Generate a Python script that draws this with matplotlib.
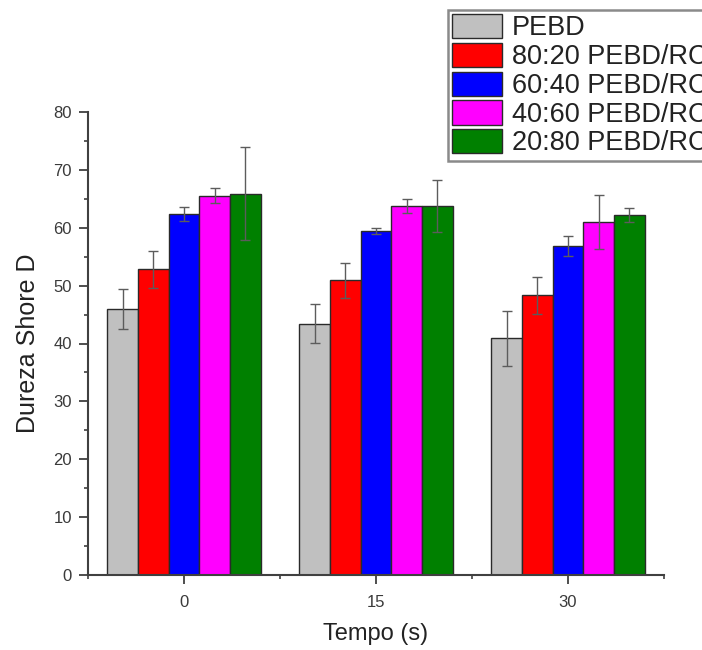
import numpy as np
import matplotlib
matplotlib.use("Agg")
import matplotlib.pyplot as plt
from matplotlib.ticker import MultipleLocator, FixedLocator

plt.rcParams['font.family'] = ['Liberation Sans', 'DejaVu Sans']

# Data: Shore D hardness versus treatment time
times = ["0", "15", "30"]
series = ["PEBD", "80:20 PEBD/RC", "60:40 PEBD/RC", "40:60 PEBD/RC", "20:80 PEBD/RC"]
colors = ["#C0C0C0", "#FF0000", "#0000FF", "#FF00FF", "#008000"]

pebd = [46.0, 43.4, 40.9]
r80_20 = [52.8, 50.9, 48.3]
r60_40 = [62.4, 59.4, 56.9]
r40_60 = [65.5, 63.7, 61.0]
r20_80 = [65.9, 63.7, 62.2]

pebd_err = [3.5, 3.35, 4.8]
r80_20_err = [3.2, 3.0, 3.2]
r60_40_err = [1.2, 0.5, 1.7]
r40_60_err = [1.3, 1.2, 4.6]
r20_80_err = [8.1, 4.5, 1.2]

values = [pebd, r80_20, r60_40, r40_60, r20_80]
errors = [pebd_err, r80_20_err, r60_40_err, r40_60_err, r20_80_err]

fig = plt.figure(figsize=(7.02, 6.5), dpi=100)
ax = fig.add_axes([88 / 702, 1 - 575 / 650, (664 - 88) / 702, (575 - 112) / 650])

x = np.arange(len(times))
width = 0.16
n = len(series)
for i, (name, vals, errs, col) in enumerate(zip(series, values, errors, colors)):
    offs = (i - (n - 1) / 2) * width
    ax.bar(x + offs, vals, width, color=col, edgecolor="#2a2a2a", linewidth=1.0,
           label=name, zorder=2)
    ax.errorbar(x + offs, vals, yerr=errs, fmt="none", ecolor="#5c5c5c",
                elinewidth=1.0, capsize=3.5, capthick=1.0, zorder=3)

ax.set_xlim(-0.5, 2.5)
ax.set_ylim(0, 80)
ax.set_xticks(x)
ax.set_xticklabels(times)
ax.xaxis.set_minor_locator(FixedLocator([-0.5, 0.5, 1.5, 2.5]))
ax.yaxis.set_major_locator(MultipleLocator(10))
ax.yaxis.set_minor_locator(MultipleLocator(5))

for side in ("top", "right"):
    ax.spines[side].set_visible(False)
for side in ("left", "bottom"):
    ax.spines[side].set_color("#404040")
    ax.spines[side].set_linewidth(1.5)

ax.tick_params(axis="both", which="major", direction="out", length=6.5, width=1.3,
               color="#404040", labelsize=12, labelcolor="#3a3a3a", pad=5)
ax.tick_params(axis="both", which="minor", direction="out", length=3, width=1.2,
               color="#404040")
ax.tick_params(axis="x", which="major", pad=8)

ax.set_xlabel("Tempo (s)", fontsize=17, color="#222222", labelpad=9)
ax.set_ylabel("Dureza Shore D", fontsize=18, color="#222222", labelpad=10)

leg = fig.legend(loc="upper left", bbox_to_anchor=(448 / 702, 1 - 10 / 650),
                 bbox_transform=fig.transFigure, borderaxespad=0,
                 fontsize=19.5, frameon=True, fancybox=False, framealpha=1,
                 edgecolor="#8a8a8a", handlelength=1.85, handleheight=1.0,
                 handletextpad=0.35, labelspacing=0.05, borderpad=0.15)
leg.get_frame().set_linewidth(1.8)
for t in leg.get_texts():
    t.set_color("#222222")

fig.savefig("out.png", dpi=100)
